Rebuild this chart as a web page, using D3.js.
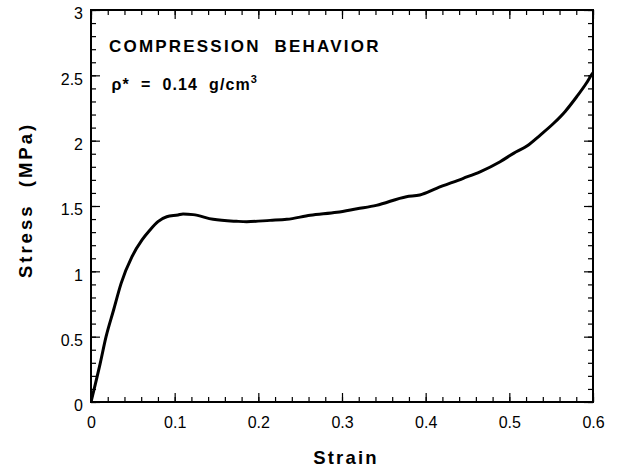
<!DOCTYPE html>
<html>
<head>
<meta charset="utf-8">
<script src="https://cdn.jsdelivr.net/npm/d3@7"></script>
<style>
  body { margin: 0; background: #fff; }
  svg { font-family: "Liberation Sans", Arial, Helvetica, sans-serif; }
  .tick text { font-size: 16px; fill: #000; }
  .domain { display: none; }
  .tick line { stroke: #000; stroke-width: 1.2; }
</style>
</head>
<body>
<div id="wrapper"></div>
<script>
// data
const strain = [0, 0.011, 0.018, 0.027, 0.036, 0.049, 0.061, 0.0705, 0.080, 0.0905, 0.104, 0.110, 0.122,
  0.146, 0.174, 0.186, 0.214, 0.234, 0.262, 0.294, 0.318, 0.341, 0.377, 0.393, 0.413, 0.445, 0.465,
  0.489, 0.505, 0.521, 0.537, 0.553, 0.5665, 0.5805, 0.592, 0.598, 0.6]
const stress = [0, 0.296, 0.50, 0.704, 0.908, 1.112, 1.24, 1.316, 1.38, 1.418, 1.431, 1.439, 1.434,
  1.398, 1.383, 1.380, 1.390, 1.398, 1.429, 1.452, 1.479, 1.505, 1.571, 1.584, 1.635, 1.712, 1.762,
  1.839, 1.903, 1.959, 2.043, 2.133, 2.222, 2.336, 2.439, 2.502, 2.52]
const xTicks = [0, 0.1, 0.2, 0.3, 0.4, 0.5, 0.6]
const yTicks = [0, 0.5, 1, 1.5, 2, 2.5, 3]
const xMinorTicks = d3.range(0, 0.6001, 0.02)
const yMinorTicks = d3.range(0, 3.0001, 0.1)

const dataset = strain.map((s, i) => ({strain: s, stress: stress[i]}))
const xAccessor = d => d.strain
const yAccessor = d => d.stress

let dimensions = {
  width: 623,
  height: 471,
  margin: { top: 10, right: 30, bottom: 69, left: 91 },
}
dimensions.boundedWidth = dimensions.width - dimensions.margin.left - dimensions.margin.right
dimensions.boundedHeight = dimensions.height - dimensions.margin.top - dimensions.margin.bottom

const wrapper = d3.select("#wrapper")
  .append("svg")
    .attr("width", dimensions.width)
    .attr("height", dimensions.height)

const bounds = wrapper.append("g")
    .attr("transform", `translate(${dimensions.margin.left},${dimensions.margin.top})`)

const xScale = d3.scaleLinear().domain([0, 0.6]).range([0, dimensions.boundedWidth])
const yScale = d3.scaleLinear().domain([0, 3]).range([dimensions.boundedHeight, 0])

// minor ticks on all four sides
const fmtNone = () => ""
bounds.append("g").attr("class", "x-minor")
    .attr("transform", `translate(0,${dimensions.boundedHeight})`)
  .call(d3.axisBottom(xScale).tickValues(xMinorTicks).tickSize(-5).tickFormat(fmtNone))
bounds.append("g").attr("class", "x-minor-top")
  .call(d3.axisTop(xScale).tickValues(xMinorTicks).tickSize(-5).tickFormat(fmtNone))
bounds.append("g").attr("class", "y-minor")
  .call(d3.axisLeft(yScale).tickValues(yMinorTicks).tickSize(-5).tickFormat(fmtNone))
bounds.append("g").attr("class", "y-minor-right")
    .attr("transform", `translate(${dimensions.boundedWidth},0)`)
  .call(d3.axisRight(yScale).tickValues(yMinorTicks).tickSize(-5).tickFormat(fmtNone))

// major ticks + labels
const xAxis = bounds.append("g").attr("class", "x-axis")
    .attr("transform", `translate(0,${dimensions.boundedHeight})`)
  .call(d3.axisBottom(xScale).tickValues(xTicks).tickSize(-9).tickPadding(15).tickFormat(d3.format("")))
bounds.append("g").attr("class", "x-axis-top")
  .call(d3.axisTop(xScale).tickValues(xTicks).tickSize(-9).tickFormat(fmtNone))
const yAxis = bounds.append("g").attr("class", "y-axis")
  .call(d3.axisLeft(yScale).tickValues(yTicks).tickSize(-9).tickPadding(8).tickFormat(d3.format("")))
yAxis.selectAll("text").attr("dy", "0.55em")
bounds.append("g").attr("class", "y-axis-right")
    .attr("transform", `translate(${dimensions.boundedWidth},0)`)
  .call(d3.axisRight(yScale).tickValues(yTicks).tickSize(-9).tickFormat(fmtNone))

// frame
bounds.append("rect")
    .attr("width", dimensions.boundedWidth)
    .attr("height", dimensions.boundedHeight)
    .attr("fill", "none")
    .attr("stroke", "#000")
    .attr("stroke-width", 2)

// curve
bounds.append("clipPath").attr("id", "clip")
  .append("rect")
    .attr("width", dimensions.boundedWidth)
    .attr("height", dimensions.boundedHeight)

const lineGenerator = d3.line()
  .x(d => xScale(xAccessor(d)))
  .y(d => yScale(yAccessor(d)))
  .curve(d3.curveMonotoneX)

bounds.append("path")
    .attr("clip-path", "url(#clip)")
    .attr("d", lineGenerator(dataset))
    .attr("fill", "none")
    .attr("stroke", "#000")
    .attr("stroke-width", 3)
    .attr("stroke-linejoin", "round")

// annotation
bounds.append("text")
    .attr("x", 18)
    .attr("y", 41.7)
    .style("font-size", "17px")
    .style("font-weight", "bold")
    .style("letter-spacing", "2.2px")
    .style("white-space", "pre")
    .text("COMPRESSION  BEHAVIOR")

const rho = bounds.append("text")
    .attr("x", 20.5)
    .attr("y", 79.5)
    .style("font-size", "16px")
    .style("font-weight", "bold")
    .style("letter-spacing", "1.1px")
    .style("white-space", "pre")
rho.append("tspan").text("ρ*  =  0.14  g/cm")
rho.append("tspan")
    .attr("dy", -7)
    .style("font-size", "11px")
    .text("3")

// axis labels
bounds.append("text")
    .attr("x", dimensions.boundedWidth / 2 + 4)
    .attr("y", dimensions.boundedHeight + 62)
    .attr("text-anchor", "middle")
    .style("font-size", "18.5px")
    .style("font-weight", "bold")
    .style("letter-spacing", "2.2px")
    .text("Strain")

bounds.append("text")
    .attr("transform", `translate(${-59.5},${dimensions.boundedHeight / 2 - 6}) rotate(-90)`)
    .attr("text-anchor", "middle")
    .style("font-size", "18.5px")
    .style("font-weight", "bold")
    .style("letter-spacing", "3px")
    .style("white-space", "pre")
    .text("Stress  (MPa)")
</script>
</body>
</html>
